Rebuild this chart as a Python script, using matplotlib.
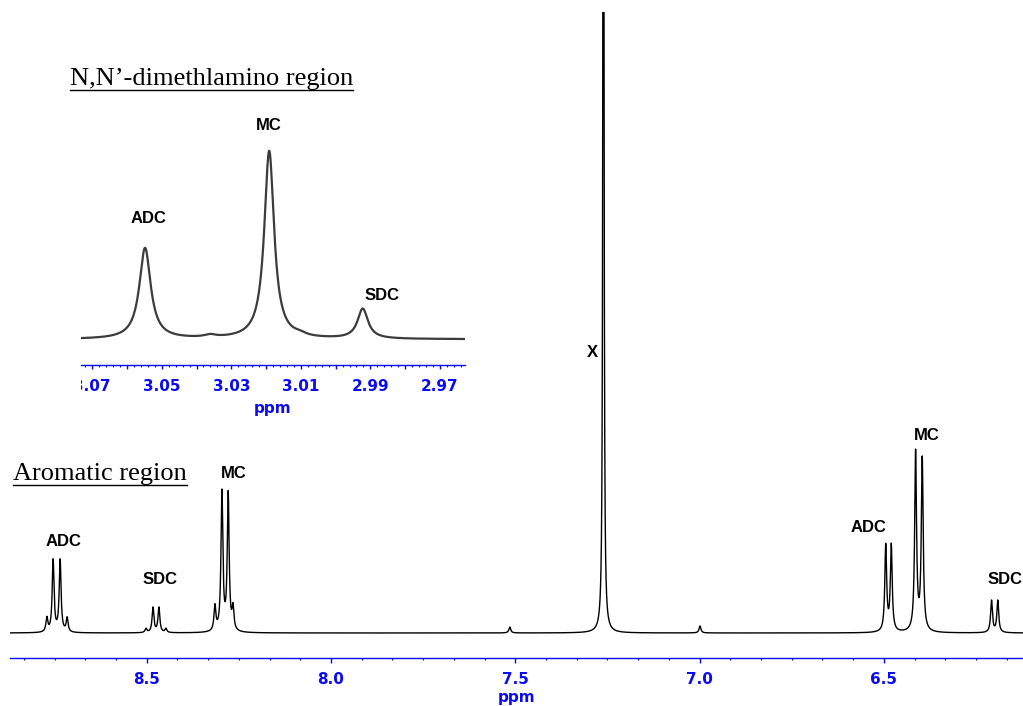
import numpy as np
import matplotlib
matplotlib.use('Agg')
import matplotlib.pyplot as plt
from matplotlib.ticker import MultipleLocator, FuncFormatter
from matplotlib.transforms import Bbox, TransformedBbox
from matplotlib.lines import Line2D

BLUE = '#0a0af5'

# aromatic region: peak positions (ppm), heights, half widths and labels
MAIN_PPM = [8.771, 8.754, 8.735, 8.716, 8.502, 8.483, 8.467, 8.448,
            8.315, 8.296, 8.279, 8.266, 7.515, 7.261, 6.999,
            6.495, 6.480, 6.414, 6.396, 6.208, 6.191]
MAIN_HEIGHT = [14, 72, 72, 14, 4, 25, 25, 4,
               25, 139, 137, 22, 6, 1500, 7,
               86, 86, 179, 172, 32, 32]
MAIN_WIDTH = [0.003] * 13 + [0.0014] + [0.003] * 7
MAIN_LABELS = ['ADC', 'SDC', 'MC', 'X', 'ADC', 'MC', 'SDC']
MAIN_LABEL_PPM = [8.727, 8.464, 8.263, 7.292, 6.543, 6.383, 6.171]
MAIN_LABEL_Y = [92, 53, 160, 281, 106, 198, 53]

# N,N'-dimethylamino region
INS_PPM = [3.0548, 3.0361, 3.0191, 3.0103, 2.9922]
INS_HEIGHT = [91, 2.5, 188, 2, 30]
INS_WIDTH = [0.00197, 0.002, 0.0017, 0.002, 0.0018]
INS_LABELS = ['ADC', 'MC', 'SDC']
INS_LABEL_PPM = [3.0539, 3.0192, 2.9867]
INS_LABEL_Y = [121, 214, 44]


def lorentz_sum(x, centers, heights, widths):
    widths = np.broadcast_to(widths, len(centers))
    y = np.zeros_like(x)
    for c, h, w in zip(centers, heights, widths):
        y += h / (1 + ((x - c) / w) ** 2)
    return y


def style_axis(ax, major_len, minor_len, pad, fs=11):
    for s in ['left', 'right', 'top']:
        ax.spines[s].set_visible(False)
    ax.spines['bottom'].set_color(BLUE)
    ax.spines['bottom'].set_linewidth(1.0)
    ax.set_yticks([])
    ax.set_facecolor('none')
    ax.tick_params(axis='x', which='major', direction='out', color=BLUE,
                   labelcolor=BLUE, length=major_len, width=1.0, pad=pad,
                   labelsize=fs)
    ax.tick_params(axis='x', which='minor', direction='out', color=BLUE,
                   length=minor_len, width=0.8)
    for lbl in ax.get_xticklabels():
        lbl.set_fontweight('bold')


fig = plt.figure(figsize=(10.23, 7.06), dpi=100)

# main spectrum
ax = fig.add_axes([10 / 1023, (706 - 657.7) / 706, 1013 / 1023, (657.7 - 12) / 706])
x = np.linspace(8.871, 6.1226, 30000)
ax.plot(x, lorentz_sum(x, MAIN_PPM, MAIN_HEIGHT, MAIN_WIDTH), color='black', lw=1.0)
ax.set_xlim(8.871, 6.1226)
ax.set_ylim(-24.7, 621)
ax.xaxis.set_major_locator(MultipleLocator(0.5))
ax.xaxis.set_minor_locator(MultipleLocator(1 / 12))
ax.xaxis.set_major_formatter(FuncFormatter(lambda v, p: f'{v:.1f}'))
style_axis(ax, 3.4, 1.7, 7.2)
ax.set_xlabel('ppm', color=BLUE, fontweight='bold', fontsize=11, labelpad=1.5)
for lab, px, py in zip(MAIN_LABELS, MAIN_LABEL_PPM, MAIN_LABEL_Y):
    ax.text(px, py, lab, ha='center', va='center', fontsize=12,
            fontweight='bold', family='Liberation Sans', clip_on=False)

# inset
ins = fig.add_axes([80.7 / 1023, (706 - 365) / 706, (465 - 80.7) / 1023, (365 - 140) / 706])
xi = np.linspace(3.0733, 2.9628, 8000)
ins.plot(xi, lorentz_sum(xi, INS_PPM, INS_HEIGHT, INS_WIDTH), color='#3c3c3c', lw=1.6)
ins.set_xlim(3.0733, 2.9628)
ins.set_ylim(-25.7, 199.3)
ins.xaxis.set_major_locator(MultipleLocator(0.01))
ins.xaxis.set_minor_locator(MultipleLocator(0.002))
ins.xaxis.set_major_formatter(FuncFormatter(
    lambda v, p: f'{v:.2f}' if round(v * 100) % 2 == 1 else ''))
style_axis(ins, 2.8, 1.5, 7)
ins.set_xlabel('ppm', color=BLUE, fontweight='bold', fontsize=11, labelpad=5)
for lab, px, py in zip(INS_LABELS, INS_LABEL_PPM, INS_LABEL_Y):
    ins.text(px, py, lab, ha='center', va='center', fontsize=12,
             fontweight='bold', family='Liberation Sans', clip_on=False)

# region titles
t1 = fig.text(70 / 1023, 1 - 85 / 706, 'N,N\u2019-dimethlamino region',
              family='Liberation Serif', fontsize=19, ha='left', va='baseline')
t2 = fig.text(13 / 1023, 1 - 480 / 706, 'Aromatic region',
              family='Liberation Serif', fontsize=19, ha='left', va='baseline')

fig.canvas.draw()
renderer = fig.canvas.get_renderer()

# clip inset tick labels at the left end of its axis
clip = TransformedBbox(Bbox([[0, -1], [1.1, 1]]), ins.transAxes)
for lbl in ins.get_xticklabels():
    lbl.set_clip_box(clip)
    lbl.set_clip_on(True)

# underline the titles
inv = fig.transFigure.inverted()
for t in (t1, t2):
    bb = t.get_window_extent(renderer)
    base_y = t.get_transform().transform(t.get_position())[1]
    (x0, y0), (x1, _) = inv.transform([(bb.x0, base_y - 5), (bb.x1, base_y - 5)])
    fig.add_artist(Line2D([x0, x1], [y0, y0], color='black', lw=1.0))

fig.savefig('out.png', dpi=100)
